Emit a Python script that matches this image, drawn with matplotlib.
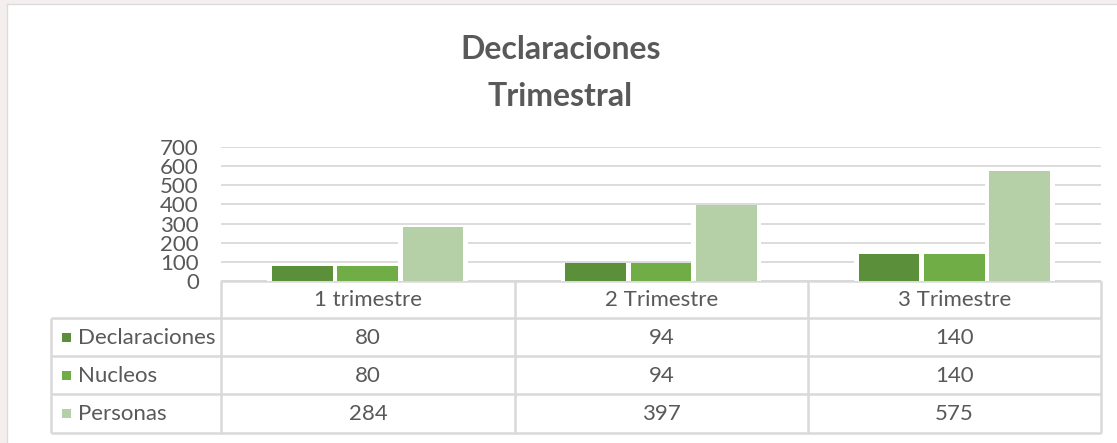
import numpy as np
import matplotlib.pyplot as plt
from matplotlib.patches import Rectangle

categorias = ["1 trimestre", "2 Trimestre", "3 Trimestre"]
series = ["Declaraciones", "Nucleos", "Personas"]
declaraciones = [80, 94, 140]
nucleos = [80, 94, 140]
personas = [284, 397, 575]
colores = ["#5B8F3A", "#70AD47", "#B5CFA7"]
valores = [declaraciones, nucleos, personas]

plt.rcParams['font.family'] = ['Lato', 'DejaVu Sans']
txt = "#595959"
linea = "#D9D9D9"
fs = 16

W, H = 1117, 443
fig = plt.figure(figsize=(W / 100, H / 100), dpi=100)
fig.patch.set_facecolor("white")

# overlay in pixel coords for frame + data table
ov = fig.add_axes([0, 0, 1, 1])
ov.set_xlim(0, W)
ov.set_ylim(H, 0)
ov.axis("off")
ov.add_patch(Rectangle((0, 0), W, 4, color="#F4EEEE", lw=0))
ov.add_patch(Rectangle((0, 0), 7, H, color="#F4EEEE", lw=0))
ov.plot([7, W], [4, 4], color="#DCDCDC", lw=1)
ov.plot([7, 7], [4, H], color="#DCDCDC", lw=1)

ov.text(W / 2 + 2, 49, "Declaraciones", ha="center", va="center",
        fontsize=23, fontweight="bold", color=txt)
ov.text(W / 2 + 2, 96, "Trimestral", ha="center", va="center",
        fontsize=23, fontweight="bold", color=txt)

# plot area
x0, x1 = 221, 1101
ytop, ybot = 147, 281
ax = fig.add_axes([x0 / W, (H - ybot) / H, (x1 - x0) / W, (ybot - ytop) / H])
ax.set_xlim(-0.5, 2.5)
ax.set_ylim(0, 700)
ax.set_yticks(np.arange(0, 701, 100))
ax.set_xticks([])
for s in ax.spines.values():
    s.set_visible(False)
ax.tick_params(axis="y", length=0, pad=16, labelsize=fs, labelcolor=txt)
ax.grid(axis="y", color=linea, lw=1.3, zorder=0)
ax.set_axisbelow(True)
ax.patch.set_alpha(0)

x = np.arange(len(categorias))
bw = 0.207
paso = 0.223
for i, (vals, c) in enumerate(zip(valores, colores)):
    ax.bar(x + (i - 1) * paso, vals, width=bw + 0.032, color="white", zorder=1)
for i, (vals, c) in enumerate(zip(valores, colores)):
    ax.bar(x + (i - 1) * paso, vals, width=bw, color=c, zorder=2)

# data table
cols = [221, 515, 808, 1101]
filas = [281, 318, 356, 394, 433]
tl = 51
kw = dict(color=linea, lw=1.8, solid_capstyle="butt")
ov.plot([cols[0], cols[-1]], [filas[0], filas[0]], **kw)
for y in filas[1:]:
    ov.plot([tl, cols[-1]], [y, y], **kw)
for xc in cols:
    ov.plot([xc, xc], [filas[0], filas[-1]], **kw)
ov.plot([tl, tl], [filas[1], filas[-1]], **kw)

for j, cat in enumerate(categorias):
    ov.text((cols[j] + cols[j + 1]) / 2, (filas[0] + filas[1]) / 2 + 1, cat,
            ha="center", va="center", fontsize=fs, color=txt)
for i, (nom, vals, c) in enumerate(zip(series, valores, colores)):
    yc = (filas[i + 1] + filas[i + 2]) / 2
    ov.add_patch(Rectangle((62, yc - 4.5), 9, 9, color=c, lw=0))
    ov.text(78, yc + 1, nom, ha="left", va="center", fontsize=fs, color=txt)
    for j, v in enumerate(vals):
        ov.text((cols[j] + cols[j + 1]) / 2, yc + 1, str(v),
                ha="center", va="center", fontsize=fs, color=txt)

fig.savefig("out.png", dpi=100)
